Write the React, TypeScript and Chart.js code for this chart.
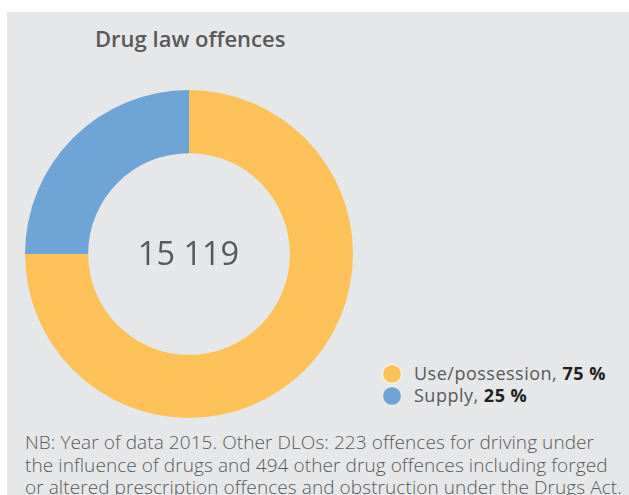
import React, { useEffect, useRef } from "react";
import { Chart, registerables } from "chart.js";

Chart.register(...registerables);

const TITLE = "Drug law offences";
const CATEGORIES = ["Use/possession", "Supply"];
const VALUES = [75, 25];
const PERCENT_LABELS = ["75 %", "25 %"];
const COLORS = ["#FDC35A", "#6FA5D6"];
const TOTAL_LABEL = "15 119";
const NOTE_LINES = [
  "NB: Year of data 2015. Other DLOs: 223 offences for driving under",
  "the influence of drugs and 494 other drug offences including forged",
  "or altered prescription offences and obstruction under the Drugs Act.",
];

const FONT = "'Open Sans', Roboto, 'Noto Sans', sans-serif";
const GRAY_TEXT = "#58595b";

export default function App() {
  const canvasRef = useRef<HTMLCanvasElement | null>(null);

  useEffect(() => {
    if (!canvasRef.current) return;
    const chart = new Chart(canvasRef.current, {
      type: "doughnut",
      data: {
        labels: CATEGORIES,
        datasets: [
          {
            data: VALUES,
            backgroundColor: COLORS,
            borderWidth: 0,
          },
        ],
      },
      options: {
        responsive: false,
        animation: false,
        cutout: "61.5%",
        rotation: 0,
        layout: { padding: 0 },
        plugins: {
          legend: { display: false },
          tooltip: { enabled: false },
          title: { display: false },
        },
      },
    });
    return () => chart.destroy();
  }, []);

  return (
    <div
      style={{
        position: "fixed",
        left: 0,
        top: 0,
        width: 629,
        height: 495,
        overflow: "hidden",
        background: "#ffffff",
        fontFamily: FONT,
      }}
    >
      <div
        style={{
          position: "absolute",
          left: 7,
          top: 12,
          width: 622,
          height: 483,
          background: "#e6e7e8",
        }}
      />
      <div
        style={{
          position: "absolute",
          left: 95,
          top: 27.2,
          fontSize: 22,
          lineHeight: "22px",
          fontWeight: 600,
          color: GRAY_TEXT,
          whiteSpace: "nowrap",
        }}
      >
        {TITLE}
      </div>
      <canvas
        ref={canvasRef}
        width={328}
        height={328}
        style={{ position: "absolute", left: 25, top: 90, width: 328, height: 328 }}
      />
      <div
        style={{
          position: "absolute",
          left: 0,
          width: 377,
          top: 235.9,
          textAlign: "center",
          fontSize: 32.5,
          lineHeight: "33px",
          color: GRAY_TEXT,
          whiteSpace: "nowrap",
        }}
      >
        {TOTAL_LABEL}
      </div>
      {CATEGORIES.map((c, i) => (
        <div
          key={c}
          style={{
            position: "absolute",
            left: 382,
            top: 361.5 + i * 22,
            height: 22,
            display: "flex",
            alignItems: "center",
            whiteSpace: "nowrap",
          }}
        >
          <span
            style={{
              display: "inline-block",
              width: 18,
              height: 18,
              borderRadius: "50%",
              background: COLORS[i],
              border: "1px solid #ffffff",
              marginRight: 12,
              marginTop: 2,
            }}
          />
          <span
            style={{
              fontSize: 18,
              lineHeight: "22px",
              letterSpacing: 0.5,
              color: GRAY_TEXT,
            }}
          >
            {c + ", "}
            <b style={{ color: "#231f20", fontWeight: 700 }}>{PERCENT_LABELS[i]}</b>
          </span>
        </div>
      ))}
      {NOTE_LINES.map((line, i) => (
        <div
          key={i}
          style={{
            position: "absolute",
            left: 25,
            top: 431.2 + i * 22.3,
            fontSize: 19,
            lineHeight: "22.3px",
            fontWeight: 300,
            letterSpacing: 0.08,
            color: GRAY_TEXT,
            whiteSpace: "nowrap",
          }}
        >
          {line}
        </div>
      ))}
    </div>
  );
}
